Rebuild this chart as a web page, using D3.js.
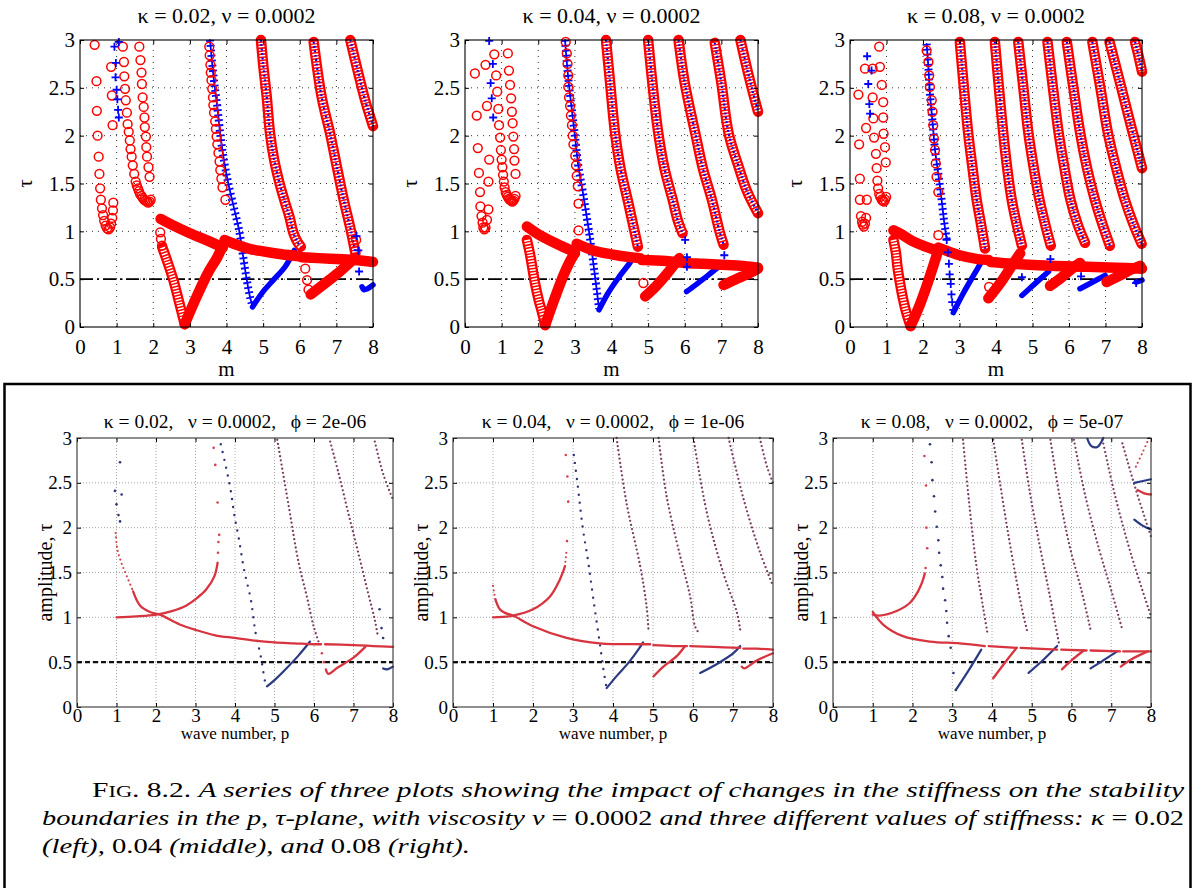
<!DOCTYPE html>
<html><head><meta charset="utf-8">
<script src="https://cdn.jsdelivr.net/npm/d3@7"></script>
<style>body{margin:0;background:#fff}svg{display:block}</style>
</head><body><svg id="c" width="1195" height="888"></svg>
<script>
// ---------------- tick labels ----------------
const xTicks = [0,1,2,3,4,5,6,7,8];
const yTicks = [0,0.5,1,1.5,2,2.5,3];
const topTitles = ["κ = 0.02, ν = 0.0002","κ = 0.04, ν = 0.0002","κ = 0.08, ν = 0.0002"];
const botTitles = ["κ = 0.02,   ν = 0.0002,   ϕ = 2e-06","κ = 0.04,   ν = 0.0002,   ϕ = 1e-06","κ = 0.08,   ν = 0.0002,   ϕ = 5e-07"];
const threshold = 0.5;

// ---------------- top row, kappa = 0.02 ----------------
const t1_redSparse = [
 [[0.40,2.95],[0.45,2.57],[0.46,2.26],[0.48,2.00],[0.51,1.78],[0.53,1.60],[0.55,1.45],[0.57,1.33],[0.60,1.24],[0.63,1.17],[0.66,1.11],[0.70,1.06],[0.74,1.03],[0.78,1.02],[0.82,1.04],[0.85,1.08],[0.88,1.14],[0.90,1.22],[0.91,1.30],[0.89,2.11],[0.87,2.42],[0.85,2.72]],
 [[1.17,2.93],[1.20,2.77],[1.21,2.62],[1.23,2.49],[1.25,2.37],[1.28,2.24],[1.30,2.12],[1.33,2.04],[1.36,1.95],[1.38,1.86],[1.41,1.78],[1.44,1.69],[1.48,1.60],[1.52,1.52],[1.55,1.48],[1.58,1.45],[1.61,1.42],[1.64,1.39],[1.68,1.37],[1.71,1.35],[1.75,1.33],[1.79,1.32],[1.83,1.31],[1.86,1.30],[1.90,1.31],[1.93,1.33],[1.90,1.57],[1.87,1.67],[1.83,1.78],[1.81,1.88],[1.80,1.99],[1.77,2.09],[1.76,2.19],[1.74,2.30],[1.71,2.40],[1.69,2.54],[1.68,2.66],[1.65,2.79],[1.62,2.93]],
 [[3.53,2.93],[3.54,2.84],[3.56,2.74],[3.57,2.66],[3.59,2.58],[3.61,2.49],[3.63,2.40],[3.64,2.32],[3.66,2.24],[3.69,2.15],[3.71,2.07],[3.73,1.99],[3.75,1.91],[3.78,1.82],[3.81,1.73],[3.83,1.64],[3.86,1.55],[3.89,1.46],[3.97,1.33]],
 [[2.19,0.99],[2.21,0.92],[2.24,0.85]],
 [[6.15,0.61],[6.20,0.49],[6.24,0.39]],
 [[7.52,0.80],[7.54,0.91]]
];
const t1_redBand = [
 [[2.2,1.13],[2.5,1.07],[3.0,0.98],[3.5,0.90],[3.9,0.83]],
 [[3.95,0.91],[4.2,0.87],[4.6,0.82],[5.0,0.79],[5.5,0.76],[6.0,0.74]],
 [[6.05,0.73],[6.5,0.72],[7.0,0.71],[7.5,0.70],[8.0,0.68]],
 [[2.86,0.03],[3.2,0.33],[3.5,0.57],[3.75,0.73],[3.96,0.90]],
 [[6.3,0.34],[6.6,0.43],[7.0,0.55],[7.3,0.65],[7.5,0.72]]
];
const t1_redV = [
 [[2.25,0.83],[2.37,0.70],[2.55,0.49],[2.72,0.24],[2.86,0.03]]
];
const t1_redSteep = [
 [[4.94,3.0],[5.0,2.75],[5.1,2.4],[5.19,2.02],[5.3,1.75],[5.45,1.5],[5.6,1.3],[5.72,1.15],[5.83,0.98],[5.95,0.88],[6.03,0.84]],
 [[6.38,2.98],[6.6,2.4],[6.83,2.02],[7.0,1.7],[7.2,1.33],[7.4,1.0],[7.52,0.77]],
 [[7.38,3.0],[7.6,2.65],[7.8,2.35],[8.0,2.1]]
];
const t1_bluePlus = [
 [[3.55,3.0],[3.65,2.6],[3.75,2.3],[3.85,1.95],[3.95,1.7],[4.05,1.5],[4.2,1.25],[4.35,1.0],[4.45,0.75],[4.55,0.5],[4.65,0.3],[4.71,0.22]]
];
const t1_blueBand = [
 [[4.71,0.21],[5.0,0.37],[5.3,0.50],[5.6,0.63],[5.85,0.80]],
 [[7.7,0.42],[7.75,0.39],[7.85,0.40],[8.0,0.44]]
];
const t1_blueSparse = [
 [[0.94,2.93],[1.06,2.98],[0.98,2.76],[0.97,2.61],[1.00,2.48],[1.02,2.38],[1.04,2.27],[1.06,2.19]],
 [[7.55,0.95],[7.60,0.80],[7.62,0.58]]
];

// ---------------- top row, kappa = 0.04 ----------------
const t2_redSparse = [
 [[0.27,2.65],[0.32,2.21],[0.35,1.87],[0.38,1.61],[0.41,1.41],[0.42,1.26],[0.45,1.16],[0.48,1.09],[0.50,1.04],[0.53,1.02],[0.56,1.04],[0.60,1.12],[0.64,1.23],[0.64,1.52],[0.66,1.75],[0.60,2.31],[0.56,2.74]],
 [[0.80,2.85],[0.85,2.63],[0.88,2.46],[0.91,2.28],[0.93,2.11],[0.96,1.98],[0.98,1.85],[1.00,1.75],[1.02,1.67],[1.04,1.59],[1.06,1.52],[1.08,1.46],[1.11,1.41],[1.14,1.38],[1.17,1.36],[1.20,1.34],[1.23,1.33],[1.26,1.32],[1.29,1.31],[1.32,1.32],[1.35,1.34],[1.38,1.37],[1.38,1.60],[1.35,1.74],[1.34,1.86],[1.32,1.99],[1.30,2.13],[1.28,2.25],[1.26,2.39],[1.23,2.53],[1.20,2.68],[1.17,2.86]],
 [[2.75,2.98],[2.78,2.86],[2.80,2.75],[2.82,2.63],[2.82,2.51],[2.84,2.40],[2.87,2.31],[2.89,2.21],[2.92,2.11],[2.94,2.00],[2.96,1.91],[3.01,1.79],[3.03,1.69],[3.05,1.58],[3.08,1.47],[3.10,1.29],[3.10,1.01]],
 [[4.87,0.46]]
];
const t2_redBand = [
 [[1.69,1.05],[2.0,0.97],[2.5,0.87],[2.9,0.80],[3.0,0.78]],
 [[3.05,0.87],[3.5,0.80],[4.0,0.76],[4.5,0.73],[4.78,0.72]],
 [[4.83,0.70],[5.5,0.69],[6.0,0.67],[6.5,0.66],[7.0,0.65],[7.5,0.64],[8.0,0.62]],
 [[2.19,0.02],[2.45,0.30],[2.7,0.55],[2.9,0.71],[3.0,0.77]],
 [[4.92,0.32],[5.2,0.42],[5.5,0.55],[5.85,0.72]],
 [[7.06,0.44],[7.4,0.50],[7.7,0.55],[8.0,0.61]]
];
const t2_redV = [
 [[1.69,0.91],[1.78,0.75],[1.91,0.46],[2.02,0.27],[2.10,0.16],[2.19,0.02]]
];
const t2_redSteep = [
 [[3.85,3.0],[3.95,2.6],[4.1,2.02],[4.25,1.65],[4.44,1.33],[4.6,1.05],[4.72,0.84]],
 [[5.0,3.0],[5.13,2.5],[5.28,2.02],[5.45,1.65],[5.67,1.33],[5.82,1.1],[5.94,0.98]],
 [[5.83,3.0],[6.0,2.55],[6.29,2.02],[6.5,1.65],[6.74,1.33],[6.95,1.0],[7.06,0.86]],
 [[6.82,2.97],[7.0,2.55],[7.2,2.02],[7.45,1.7],[7.7,1.42],[8.0,1.19]],
 [[7.52,3.0],[7.7,2.7],[7.85,2.47],[8.0,2.25]]
];
const t2_bluePlus = [
 [[2.73,3.0],[2.82,2.6],[2.92,2.26],[3.0,2.0],[3.1,1.67],[3.2,1.45],[3.28,1.26],[3.42,0.91],[3.55,0.53],[3.66,0.19]]
];
const t2_blueBand = [
 [[3.66,0.18],[3.9,0.35],[4.2,0.52],[4.5,0.67],[4.6,0.73]],
 [[6.05,0.37],[6.3,0.44],[6.6,0.53],[6.9,0.62]]
];
const t2_blueSparse = [
 [[0.66,2.99],[0.76,2.75],[0.70,2.55],[0.73,2.39],[0.77,2.19]],
 [[6.01,0.91],[6.06,0.73],[6.06,0.63],[7.08,0.75]]
];

// ---------------- top row, kappa = 0.08 ----------------
const t3_redSparse = [
 [[0.23,2.43],[0.25,1.91],[0.27,1.55],[0.27,1.33],[0.30,1.16],[0.33,1.10],[0.35,1.07],[0.38,1.05],[0.41,1.08],[0.44,1.14],[0.46,1.33],[0.44,2.08],[0.41,2.70]],
 [[0.62,2.70],[0.62,2.40],[0.64,2.18],[0.66,1.98],[0.71,1.81],[0.73,1.66],[0.75,1.53],[0.77,1.45],[0.80,1.39],[0.83,1.36],[0.87,1.33],[0.90,1.32],[0.93,1.31],[0.96,1.33],[0.99,1.36],[0.98,1.72],[0.96,1.88],[0.92,2.02],[0.91,2.19],[0.91,2.35],[0.87,2.53],[0.82,2.72],[0.80,2.93]],
 [[2.10,2.89],[2.15,2.77],[2.17,2.63],[2.19,2.51],[2.24,2.37],[2.26,2.25],[2.28,2.11],[2.30,1.97],[2.33,1.85],[2.35,1.71],[2.37,1.57],[2.42,1.41],[2.42,0.96]],
 [[3.81,0.42]]
];
const t3_redBand = [
 [[1.19,1.01],[1.4,0.97],[1.7,0.90],[2.0,0.85],[2.37,0.80]],
 [[2.42,0.83],[3.0,0.75],[3.5,0.71],[3.8,0.70]],
 [[3.85,0.68],[4.5,0.66],[5.5,0.64],[6.5,0.63],[7.3,0.62],[8.0,0.61]],
 [[1.66,0.01],[1.9,0.22],[2.1,0.43],[2.3,0.66],[2.4,0.78]],
 [[3.79,0.30],[4.1,0.45],[4.4,0.62],[4.66,0.77]],
 [[5.48,0.43],[5.8,0.52],[6.05,0.60],[6.30,0.67]],
 [[7.03,0.47],[7.4,0.54],[7.7,0.60],[7.95,0.64]]
];
const t3_redV = [
 [[1.19,0.91],[1.26,0.77],[1.30,0.63],[1.37,0.46],[1.46,0.28],[1.55,0.14],[1.66,0.01]]
];
const t3_redSteep = [
 [[3.01,2.98],[3.12,2.5],[3.24,2.02],[3.36,1.65],[3.47,1.33],[3.6,1.05],[3.70,0.82]],
 [[3.97,2.98],[4.08,2.5],[4.2,2.02],[4.31,1.65],[4.43,1.33],[4.57,1.07],[4.71,0.85]],
 [[4.61,2.98],[4.75,2.5],[4.89,2.02],[5.04,1.65],[5.19,1.33],[5.35,1.07],[5.50,0.85]],
 [[5.41,2.98],[5.56,2.5],[5.72,2.02],[5.88,1.65],[6.04,1.33],[6.24,1.07],[6.44,0.88]],
 [[5.94,2.98],[6.12,2.5],[6.31,2.02],[6.5,1.65],[6.71,1.33],[6.92,1.07],[7.12,0.85]],
 [[6.64,2.98],[6.86,2.5],[7.07,2.02],[7.3,1.65],[7.53,1.33],[7.76,1.08],[7.99,0.87]],
 [[7.11,2.98],[7.4,2.55],[7.7,2.1],[8.0,1.66]],
 [[7.81,2.98],[7.9,2.84],[8.0,2.67]]
];
const t3_bluePlus = [
 [[2.10,2.96],[2.15,2.7],[2.19,2.44],[2.26,2.15],[2.33,1.85],[2.42,1.6],[2.51,1.33],[2.58,1.1],[2.65,0.91]]
];
const t3_blueBand = [
 [[2.83,0.15],[3.1,0.35],[3.4,0.55],[3.6,0.68]],
 [[4.71,0.33],[5.0,0.43],[5.44,0.58]],
 [[6.30,0.40],[6.6,0.46],[6.99,0.54]],
 [[7.84,0.47],[8.0,0.49]]
];
const t3_blueSparse = [
 [[0.47,2.83],[0.50,2.54],[0.53,2.33],[0.55,2.23],[0.59,2.68]],
 [[2.65,0.91],[2.68,0.78],[2.71,0.66],[2.73,0.55],[2.76,0.45],[2.78,0.34],[2.80,0.26],[2.83,0.18]],
 [[4.71,0.52],[5.49,0.71],[6.33,0.53],[7.84,0.46]]
];

// ---------------- bottom row, kappa = 0.02 ----------------
const b1_redLine = [
 [[1.0,1.0],[1.5,1.01],[2.01,1.03],[2.4,1.07],[2.76,1.13],[3.05,1.22],[3.27,1.31],[3.48,1.46],[3.56,1.61]],
 [[1.42,1.29],[1.6,1.13],[1.85,1.06],[2.1,1.03],[2.6,0.92],[3.0,0.86],[3.5,0.80],[4.0,0.77],[4.5,0.74],[5.0,0.72],[5.5,0.71],[6.0,0.70],[6.18,0.70]],
 [[6.28,0.70],[7.0,0.69],[7.5,0.68],[8.0,0.67]],
 [[6.30,0.42],[6.36,0.37],[6.6,0.44],[7.0,0.55],[7.3,0.67]]
];
const b1_redDotted = [
 [[0.98,1.94],[1.02,1.76],[1.13,1.60],[1.26,1.46],[1.42,1.29]]
];
const b1_redDots = [[3.57,1.72],[3.58,1.84],[3.60,1.92],[3.56,2.28],[3.50,2.70],[3.46,2.89],[6.20,0.60],[6.25,0.50]];
const b1_blueLine = [
 [[4.81,0.23],[5.0,0.30],[5.3,0.43],[5.6,0.57],[5.9,0.73]],
 [[7.75,0.43],[7.85,0.42],[8.0,0.45]]
];
const b1_blueDotted = [
 [[3.64,2.93],[3.77,2.68],[3.89,2.42],[3.98,2.15],[4.1,1.87],[4.23,1.53],[4.40,1.20],[4.52,0.83],[4.65,0.57],[4.77,0.27],[4.81,0.23]]
];
const b1_blueDots = [[0.96,2.41],[1.0,2.26],[1.05,2.14],[1.09,2.07],[1.09,2.73],[1.13,2.37],[7.66,1.09],[7.71,0.88],[7.75,0.77]];
const b1_purpleDotted = [
 [[5.07,2.98],[5.36,2.24],[5.61,1.61],[5.82,1.23],[5.99,0.90],[6.13,0.71]],
 [[6.41,2.96],[6.62,2.61],[6.87,2.16],[7.12,1.72],[7.37,1.27],[7.54,0.97],[7.62,0.78]],
 [[7.54,2.96],[7.75,2.6],[8.0,2.31]]
];

// ---------------- bottom row, kappa = 0.04 ----------------
const b2_redLine = [
 [[1.0,1.0],[1.5,1.02],[2.0,1.09],[2.42,1.23],[2.67,1.42],[2.80,1.57]],
 [[1.06,1.2],[1.17,1.09],[1.3,1.05],[1.5,1.02],[2.0,0.90],[2.84,0.77],[3.67,0.71],[4.68,0.70],[4.93,0.70]],
 [[5.01,0.69],[5.5,0.68],[5.85,0.68]],
 [[5.93,0.68],[6.5,0.67],[7.18,0.66]],
 [[7.26,0.65],[7.6,0.65],[8.0,0.64]],
 [[5.01,0.34],[5.26,0.45],[5.6,0.57],[5.8,0.68]],
 [[7.22,0.45],[7.28,0.43],[7.6,0.52],[8.0,0.60]]
];
const b2_redDotted = [
 [[1.0,1.35],[1.03,1.27],[1.06,1.2]],
 [[2.80,1.57],[2.84,1.75]]
];
const b2_redDots = [[2.82,2.81],[2.86,2.57],[2.88,2.29],[2.85,1.85]];
const b2_blueLine = [
 [[3.84,0.21],[4.1,0.35],[4.4,0.5],[4.65,0.65],[4.75,0.72]],
 [[6.18,0.38],[6.6,0.48],[7.01,0.60],[7.18,0.68]]
];
const b2_blueDotted = [
 [[3.02,2.81],[3.11,2.50],[3.24,2.01],[3.38,1.62],[3.51,1.20],[3.67,0.71],[3.76,0.42],[3.84,0.21]]
];
const b2_blueDots = [];
const b2_purpleDotted = [
 [[4.09,3.0],[4.34,2.27],[4.68,1.57],[4.84,1.12],[4.89,0.83]],
 [[5.14,3.0],[5.34,2.35],[5.68,1.68],[5.93,1.23],[6.05,0.90],[6.14,0.83]],
 [[6.01,3.0],[6.35,2.16],[6.76,1.49],[7.10,1.05],[7.18,0.86]],
 [[6.89,3.0],[7.27,2.31],[7.68,1.72],[8.0,1.35]],
 [[7.67,3.0],[7.85,2.68],[8.0,2.50]]
];

// ---------------- bottom row, kappa = 0.08 ----------------
const b3_redLine = [
 [[1.0,1.03],[1.18,1.02],[1.6,1.07],[1.93,1.16],[2.14,1.29],[2.25,1.40],[2.31,1.49]],
 [[1.0,1.06],[1.26,0.92],[1.76,0.79],[2.44,0.73],[3.19,0.71],[3.82,0.68]],
 [[3.92,0.68],[4.62,0.66]],
 [[4.72,0.66],[5.64,0.64]],
 [[5.74,0.64],[6.38,0.63]],
 [[6.48,0.63],[7.22,0.62]],
 [[7.30,0.62],[8.0,0.62]],
 [[4.03,0.32],[4.3,0.48],[4.62,0.66]],
 [[5.76,0.42],[6.0,0.52],[6.31,0.63]],
 [[7.24,0.45],[7.5,0.53],[7.92,0.62]],
 [[7.66,2.42],[7.85,2.38],[8.0,2.37]]
];
const b3_redDotted = [
 [[7.62,2.68],[7.8,2.85],[7.95,3.0]]
];
const b3_redDots = [[2.33,1.55],[2.37,1.77],[2.35,2.0],[2.34,2.47],[2.30,2.80]];
const b3_blueLine = [
 [[3.09,0.19],[3.4,0.40],[3.73,0.64]],
 [[4.92,0.38],[5.3,0.53],[5.64,0.68]],
 [[6.48,0.43],[6.8,0.52],[7.15,0.62]],
 [[6.40,2.99],[6.5,2.91],[6.65,2.90],[6.8,3.0]],
 [[7.58,2.50],[7.8,2.52],[8.0,2.54]],
 [[7.58,2.09],[7.8,2.02],[8.0,1.98]]
];
const b3_blueDotted = [];
const b3_blueDots = [[2.44,2.93],[2.48,2.73],[2.50,2.53],[2.54,2.35],[2.57,2.18],[2.61,2.01],[2.65,1.86],[2.67,1.72],[2.71,1.58],[2.75,1.45],[2.77,1.32],[2.82,1.19],[2.85,1.07],[2.87,0.94],[2.91,0.79],[2.96,0.66],[3.03,0.38],[3.09,0.19]];
const b3_purpleDotted = [
 [[3.27,2.98],[3.42,2.3],[3.6,1.6],[3.78,1.1],[3.88,0.84]],
 [[4.03,2.98],[4.2,2.5],[4.4,1.95],[4.62,1.4],[4.8,1.0],[4.89,0.84]],
 [[4.75,2.98],[4.95,2.4],[5.2,1.8],[5.45,1.25],[5.68,0.72]],
 [[5.47,2.98],[5.7,2.35],[5.95,1.8],[6.25,1.3],[6.48,0.86]],
 [[6.06,2.98],[6.35,2.35],[6.7,1.75],[7.0,1.3],[7.28,0.86]],
 [[6.78,2.98],[7.1,2.35],[7.5,1.7],[8.0,1.01]],
 [[7.28,2.94],[7.6,2.45],[8.0,1.9]]
];

// ================= drawing =================
const svg = d3.select("#c");
const FONT = "'Liberation Serif', 'DejaVu Serif', serif";
const RED = "#ff0000", BLUE = "#0000ff";

const topData = [
 {redSparse:t1_redSparse, redBand:t1_redBand, redV:t1_redV, redSteep:t1_redSteep, bluePlus:t1_bluePlus, blueBand:t1_blueBand, blueSparse:t1_blueSparse},
 {redSparse:t2_redSparse, redBand:t2_redBand, redV:t2_redV, redSteep:t2_redSteep, bluePlus:t2_bluePlus, blueBand:t2_blueBand, blueSparse:t2_blueSparse},
 {redSparse:t3_redSparse, redBand:t3_redBand, redV:t3_redV, redSteep:t3_redSteep, bluePlus:t3_bluePlus, blueBand:t3_blueBand, blueSparse:t3_blueSparse}
];
const botData = [
 {redLine:b1_redLine, redDotted:b1_redDotted, redDots:b1_redDots, blueLine:b1_blueLine, blueDotted:b1_blueDotted, blueDots:b1_blueDots, purpleDotted:b1_purpleDotted},
 {redLine:b2_redLine, redDotted:b2_redDotted, redDots:b2_redDots, blueLine:b2_blueLine, blueDotted:b2_blueDotted, blueDots:b2_blueDots, purpleDotted:b2_purpleDotted},
 {redLine:b3_redLine, redDotted:b3_redDotted, redDots:b3_redDots, blueLine:b3_blueLine, blueDotted:b3_blueDotted, blueDots:b3_blueDots, purpleDotted:b3_purpleDotted}
];

const topLayout = [[80,373],[465,758],[850,1142]];
const TY0 = 40, TY1 = 327;
const botLayout = [[77,393],[453,773],[833,1151]];
const BY0 = 438, BY1 = 707;

function styleAxis(sel, size) {
  sel.attr("font-family", null).attr("font-size", null);
  sel.select(".domain").remove();
  sel.selectAll("line").attr("stroke", "#000");
  sel.selectAll("text").style("font-family", FONT).style("font-size", size + "px").attr("fill", "#000");
}

function grid(g, x, y, color, dash, w) {
  g.append("g").selectAll("line").data(xTicks.slice(1, -1)).join("line")
    .attr("x1", d => x(d)).attr("x2", d => x(d)).attr("y1", y(0)).attr("y2", y(3))
    .attr("stroke", color).attr("stroke-width", w).attr("stroke-dasharray", dash);
  g.append("g").selectAll("line").data(yTicks.slice(1, -1)).join("line")
    .attr("y1", d => y(d)).attr("y2", d => y(d)).attr("x1", x(0)).attr("x2", x(8))
    .attr("stroke", color).attr("stroke-width", w).attr("stroke-dasharray", dash);
}

function boxAxes(g, x, y, size, padX, padY, frameColor) {
  const y0 = y(3), y1 = y(0), x0 = x(0), x1 = x(8);
  const fmt = d => String(d);
  styleAxis(g.append("g").attr("transform", `translate(0,${y1})`)
    .call(d3.axisBottom(x).tickValues(xTicks).tickSize(-4).tickPadding(padX).tickFormat(fmt)), size);
  styleAxis(g.append("g").attr("transform", `translate(${x0},0)`)
    .call(d3.axisLeft(y).tickValues(yTicks).tickSize(-4).tickPadding(padY).tickFormat(fmt)), size);
  styleAxis(g.append("g").attr("transform", `translate(0,${y0})`)
    .call(d3.axisTop(x).tickValues(xTicks).tickSize(-4).tickFormat("")), size);
  styleAxis(g.append("g").attr("transform", `translate(${x1},0)`)
    .call(d3.axisRight(y).tickValues(yTicks).tickSize(-4).tickFormat("")), size);
  g.append("rect").attr("x", x0).attr("y", y0).attr("width", x1 - x0).attr("height", y1 - y0)
    .attr("fill", "none").attr("stroke", frameColor).attr("stroke-width", 1.1);
}

function label(g, x, y, size, txt) {
  return g.append("text").attr("x", x).attr("y", y).attr("text-anchor", "middle")
    .style("font-family", FONT).style("font-size", size + "px").text(txt);
}

function drawTop(i) {
  const d = topData[i];
  const [x0, x1] = topLayout[i];
  const x = d3.scaleLinear().domain([0, 8]).range([x0, x1]);
  const y = d3.scaleLinear().domain([0, 3]).range([TY1, TY0]);
  const g = svg.append("g");
  grid(g, x, y, "#333", "1 5", 1);
  g.append("line").attr("x1", x(0)).attr("x2", x(8)).attr("y1", y(threshold)).attr("y2", y(threshold))
    .attr("stroke", "#000").attr("stroke-width", 1.7).attr("stroke-dasharray", "13 4 2 4");
  const line = d3.line().x(p => x(p[0])).y(p => y(p[1])).curve(d3.curveCatmullRom.alpha(0.5));
  const paths = (data, stroke, w, dash) => g.append("g").selectAll("path").data(data).join("path")
    .attr("d", line).attr("fill", "none").attr("stroke", stroke).attr("stroke-width", w)
    .attr("stroke-linecap", dash ? "butt" : "round").attr("stroke-linejoin", "round")
    .attr("stroke-dasharray", dash || null);
  paths(d.bluePlus, BLUE, 1.8);
  paths(d.bluePlus, BLUE, 8, "1.8 3.2");
  paths(d.blueBand, BLUE, 5.5);
  const rings = d.redV.concat(d.redSteep);
  paths(rings, RED, 10.5);
  paths(rings, "#fff", 6, "1.5 1.5");
  paths(d.redSteep, BLUE, 2.2, "1.8 2.6");
  paths(d.redBand, RED, 10.5);
  g.append("g").selectAll("circle").data(d.redSparse.flat()).join("circle")
    .attr("cx", p => x(p[0])).attr("cy", p => y(p[1])).attr("r", 4.4)
    .attr("fill", "none").attr("stroke", RED).attr("stroke-width", 1.5);
  g.append("g").selectAll("path").data(d.blueSparse.flat()).join("path")
    .attr("d", p => `M${x(p[0]) - 4},${y(p[1])}H${x(p[0]) + 4}M${x(p[0])},${y(p[1]) - 4}V${y(p[1]) + 4}`)
    .attr("stroke", BLUE).attr("stroke-width", 1.8);
  boxAxes(g, x, y, 21, 12, 5, "#000");
  label(g, (x0 + x1) / 2, 23, 22, topTitles[i]);
  label(g, (x0 + x1) / 2, 376, 21, "m");
  label(g, 0, 0, 21, "τ").attr("transform", `translate(${x0 - 55},${(TY0 + TY1) / 2}) rotate(-90)`).attr("dy", "0.35em");
}

function drawBottom(i) {
  const d = botData[i];
  const [x0, x1] = botLayout[i];
  const x = d3.scaleLinear().domain([0, 8]).range([x0, x1]);
  const y = d3.scaleLinear().domain([0, 3]).range([BY1, BY0]);
  const g = svg.append("g");
  grid(g, x, y, "#a8a8a8", "1 2", 1);
  g.append("line").attr("x1", x(0)).attr("x2", x(8)).attr("y1", y(threshold)).attr("y2", y(threshold))
    .attr("stroke", "#111").attr("stroke-width", 2.2).attr("stroke-dasharray", "5 3");
  const line = d3.line().x(p => x(p[0])).y(p => y(p[1])).curve(d3.curveCatmullRom.alpha(0.5));
  const paths = (data, stroke, w, dash) => g.append("g").selectAll("path").data(data).join("path")
    .attr("d", line).attr("fill", "none").attr("stroke", stroke).attr("stroke-width", w)
    .attr("stroke-linecap", "round").attr("stroke-linejoin", "round")
    .attr("stroke-dasharray", dash || null);
  paths(d.purpleDotted, "#7a3a62", 2.3, "0 4.2");
  paths(d.blueDotted, "#2c3577", 2.4, "0 8");
  paths(d.redDotted, "#d6404e", 2.2, "0 4.5");
  paths(d.blueLine, "#2b3a82", 2.2);
  paths(d.redLine, "#d8343f", 2.3);
  g.append("g").selectAll("circle").data(d.redDots).join("circle")
    .attr("cx", p => x(p[0])).attr("cy", p => y(p[1])).attr("r", 1.3).attr("fill", "#d6404e");
  g.append("g").selectAll("circle").data(d.blueDots).join("circle")
    .attr("cx", p => x(p[0])).attr("cy", p => y(p[1])).attr("r", 1.3).attr("fill", "#2c3577");
  boxAxes(g, x, y, 19, 1, 5, "#333");
  label(g, (x0 + x1) / 2, 428, 19.5, botTitles[i]).style("white-space", "pre");
  label(g, (x0 + x1) / 2, 739, 17, "wave number, p");
  label(g, 0, 0, 20, "amplitude, τ").attr("transform", `translate(${x0 - 32},${(BY0 + BY1) / 2}) rotate(-90)`).attr("dy", "0.35em");
}

// outer box around the lower figure
svg.append("rect").attr("x", 4.5).attr("y", 384).attr("width", 1186).attr("height", 520)
  .attr("fill", "none").attr("stroke", "#000").attr("stroke-width", 2.5);

[0, 1, 2].forEach(drawTop);
[0, 1, 2].forEach(drawBottom);

// caption
const cap = svg.append("g").style("font-family", FONT).style("font-size", "21px").attr("fill", "#000");
const l1 = cap.append("text").attr("x", 92).attr("y", 797).attr("textLength", 1092).attr("lengthAdjust", "spacingAndGlyphs");
l1.append("tspan").text("F");
l1.append("tspan").style("font-size", "16px").text("IG");
l1.append("tspan").text(". 8.2. ");
l1.append("tspan").style("font-style", "italic").text("A series of three plots showing the impact of changes in the stiffness on the stability");
const l2 = cap.append("text").attr("x", 42).attr("y", 825).attr("textLength", 1142).attr("lengthAdjust", "spacingAndGlyphs");
l2.append("tspan").style("font-style", "italic").text("boundaries in the p, τ-plane, with viscosity ν ");
l2.append("tspan").text("= 0.0002 ");
l2.append("tspan").style("font-style", "italic").text("and three different values of stiffness: κ ");
l2.append("tspan").text("= 0.02");
const l3 = cap.append("text").attr("x", 42).attr("y", 853).attr("textLength", 428).attr("lengthAdjust", "spacingAndGlyphs");
l3.append("tspan").style("font-style", "italic").text("(left), ");
l3.append("tspan").text("0.04 ");
l3.append("tspan").style("font-style", "italic").text("(middle), and ");
l3.append("tspan").text("0.08 ");
l3.append("tspan").style("font-style", "italic").text("(right).");
</script></body></html>
